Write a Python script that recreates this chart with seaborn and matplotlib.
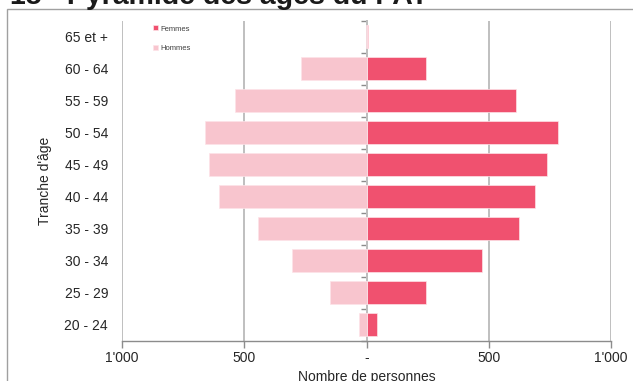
import matplotlib
matplotlib.use("Agg")
import matplotlib.pyplot as plt
import matplotlib.patches as mpatches
from matplotlib.ticker import FixedLocator, FuncFormatter
import seaborn as sns
import pandas as pd

# Age groups, oldest at the top
tranches = ["65 et +", "60 - 64", "55 - 59", "50 - 54", "45 - 49",
            "40 - 44", "35 - 39", "30 - 34", "25 - 29", "20 - 24"]
femmes = [5, 244, 611, 782, 740, 691, 622, 473, 245, 41]
hommes = [2, 269, 537, 661, 644, 603, 442, 306, 151, 30]

x_ticks = [-1000, -500, 0, 500, 1000]
x_tick_labels = ["1'000", "500", "-", "500", "1'000"]

col_femmes = "#F0516F"
col_hommes = "#F8C5CE"
grid_col = "#BFBFBF"
text_col = "#262626"

df = pd.concat([
    pd.DataFrame({"Tranche": tranches, "Nombre": femmes, "Sexe": "Femmes"}),
    pd.DataFrame({"Tranche": tranches, "Nombre": [-v for v in hommes], "Sexe": "Hommes"}),
])

sns.set_theme(style="white")
plt.rcParams["font.family"] = ["Liberation Sans", "DejaVu Sans"]

W, H = 633, 381
fig = plt.figure(figsize=(W / 100, H / 100), dpi=100)
ax = fig.add_axes([122 / W, 1 - 340.8 / H, (611 - 122) / W, (340.8 - 20.8) / H])

sns.barplot(data=df, x="Nombre", y="Tranche", hue="Sexe", order=tranches,
            hue_order=["Femmes", "Hommes"], palette=[col_femmes, col_hommes],
            saturation=1, dodge=False, width=0.72, orient="h", ax=ax, zorder=3,
            edgecolor="#FDE3E8", linewidth=0.5)

ax.set_xlim(-1000, 1000)
ax.set_ylim(len(tranches) - 0.5, -0.5)

# vertical gridlines
for v in x_ticks:
    ax.axvline(v, color=grid_col, lw=1.4, zorder=1)

ax.xaxis.set_major_locator(FixedLocator(x_ticks))
ax.xaxis.set_major_formatter(FuncFormatter(lambda v, p: x_tick_labels[x_ticks.index(int(round(v)))]))
ax.tick_params(axis="x", bottom=True, length=5, width=1, color="#8C8C8C",
               labelsize=10, labelcolor=text_col, pad=2.5)
ax.tick_params(axis="y", left=False, length=0, labelsize=10, labelcolor=text_col, pad=10)

for s in ["top", "right", "left"]:
    ax.spines[s].set_visible(False)
ax.spines["bottom"].set_color("#8C8C8C")
ax.spines["bottom"].set_linewidth(1)

# central category axis with boundary ticks pointing left
mid = ax.secondary_yaxis(0.5)
mid.set_yticks([i - 0.5 for i in range(len(tranches) + 1)])
mid.set_yticklabels([])
mid.tick_params(length=4, width=1, color="#8C8C8C", direction="in")
for sp in mid.spines.values():
    sp.set_color("#A6A6A6")
    sp.set_linewidth(1.2)

ax.set_xlabel("Nombre de personnes", fontsize=10, color=text_col, labelpad=3.5)
ax.set_ylabel("Tranche d'âge", fontsize=10, color=text_col, labelpad=9)

leg = ax.legend(loc="upper left", bbox_to_anchor=(0.055, 1.0), frameon=False,
                fontsize=5.5, handlelength=0.6, handleheight=0.6,
                handletextpad=0.3, labelspacing=1.6, borderaxespad=0.2)
for t in leg.get_texts():
    t.set_color("#404040")

# outer chart frame (runs past the right and bottom edges)
frame_left = 7 / W
frame_top = 1 - 9.5 / H
fig.patches.append(mpatches.Rectangle((frame_left, -0.2), 1.2, frame_top + 0.2,
                                      transform=fig.transFigure, fill=False,
                                      edgecolor="#A0A0A0", lw=1.0))

fig.text(10 / W, 1 - 4.0 / H, "15 - Pyramide des âges du PAT", fontsize=20.5,
         fontweight="bold", color="#1A1A1A", ha="left", va="baseline")

fig.savefig("out.png", dpi=100)
